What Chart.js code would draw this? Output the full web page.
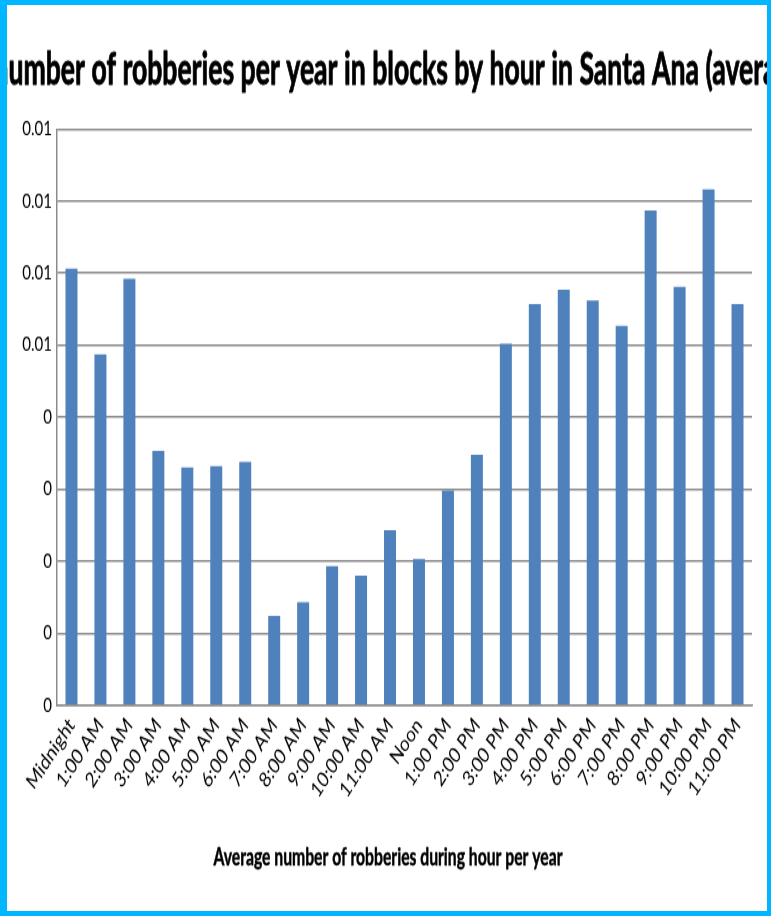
<!DOCTYPE html>
<html>
<head>
<meta charset="utf-8">
<title>Robberies by hour in Santa Ana</title>
<script src="https://cdn.jsdelivr.net/npm/chart.js@4.4.1/dist/chart.umd.min.js"></script>
<style>
  html, body { margin: 0; padding: 0; background: #ffffff; }
  #wrap { position: relative; width: 771px; height: 916px; overflow: hidden; }
  #chart { position: absolute; left: 0; top: 0; }
  #frame {
    position: absolute; left: 0; top: 0; width: 771px; height: 916px;
    box-sizing: border-box; border-style: solid; border-color: #00b6ff;
    border-width: 5px 4px 5px 7px; pointer-events: none;
  }
</style>
</head>
<body>
<div id="wrap">
  <!-- drawn at 705px tall and shown at 916px: the chart is stretched vertically -->
  <canvas id="chart" width="771" height="705" style="width:771px;height:916px"></canvas>
  <div id="frame"></div>
</div>
<script>
const hourLabels = [
  'Midnight', '1:00 AM', '2:00 AM', '3:00 AM', '4:00 AM', '5:00 AM',
  '6:00 AM', '7:00 AM', '8:00 AM', '9:00 AM', '10:00 AM', '11:00 AM',
  'Noon', '1:00 PM', '2:00 PM', '3:00 PM', '4:00 PM', '5:00 PM',
  '6:00 PM', '7:00 PM', '8:00 PM', '9:00 PM', '10:00 PM', '11:00 PM'
];

const robberiesPerYear = [
  0.00606, 0.00487, 0.00592, 0.00353, 0.00330, 0.00332,
  0.00338, 0.00124, 0.00143, 0.00193, 0.00180, 0.00243,
  0.00203, 0.00298, 0.00348, 0.00502, 0.00557, 0.00577,
  0.00562, 0.00527, 0.00687, 0.00581, 0.00716, 0.00557
];

// axis labels rounded to two decimals, bottom to top
const yTickLabels = ['0', '0', '0', '0', '0', '0.01', '0.01', '0.01', '0.01'];

const chartTitle = 'Average number of robberies per year in blocks by hour in Santa Ana (average)';
const xAxisTitle = 'Average number of robberies during hour per year';

const STRETCH = 916 / 705;          // vertical display stretch of the canvas
const FONT = 'Lato, "Liberation Sans", sans-serif';

const textPlugin = {
  id: 'chartTexts',
  afterDraw(chart) {
    const ctx = chart.ctx;

    // chart title (wider than the frame, condensed horizontally)
    ctx.save();
    ctx.fillStyle = '#000000';
    ctx.strokeStyle = '#000000';
    ctx.lineWidth = 0.8;
    ctx.lineJoin = 'round';
    ctx.textBaseline = 'alphabetic';
    ctx.textAlign = 'left';
    ctx.font = 'bold 35px ' + FONT;
    const lead = ctx.measureText('Average n').width;
    const upTo = ctx.measureText('Average number of robberies per year in blocks by hour in Santa ').width;
    const kx = (652 - 8.5) / (upTo - lead);
    ctx.translate(8.5 - lead * kx, 84 / STRETCH);
    ctx.scale(kx, 1);
    ctx.fillText(chartTitle, 0, 0);
    ctx.strokeText(chartTitle, 0, 0);
    ctx.restore();

    // horizontal axis title
    ctx.save();
    ctx.fillStyle = '#000000';
    ctx.strokeStyle = '#000000';
    ctx.lineWidth = 0.4;
    ctx.textBaseline = 'alphabetic';
    ctx.textAlign = 'center';
    ctx.font = 'bold 18px ' + FONT;
    const w = ctx.measureText(xAxisTitle).width;
    ctx.translate(388, 865 / STRETCH);
    ctx.scale(349 / w, 1);
    ctx.fillText(xAxisTitle, 0, 0);
    ctx.strokeText(xAxisTitle, 0, 0);
    ctx.restore();
  }
};

new Chart(document.getElementById('chart'), {
  type: 'bar',
  data: {
    labels: hourLabels,
    datasets: [{
      data: robberiesPerYear,
      backgroundColor: '#4f81bd',
      borderWidth: 0,
      categoryPercentage: 1,
      barPercentage: 0.414
    }]
  },
  options: {
    responsive: false,
    devicePixelRatio: 1,
    animation: false,
    layout: { padding: { top: 129 / STRETCH, right: 19, bottom: 705 - 705.3 / STRETCH - 100, left: 0 } },
    plugins: {
      legend: { display: false },
      title: { display: false },
      tooltip: { enabled: false }
    },
    scales: {
      x: {
        offset: true,
        grid: { display: false, drawTicks: false },
        border: { display: true, color: '#8c8c8c', width: 1.5 },
        ticks: {
          color: '#000000',
          font: { family: FONT, size: 16.5 },
          minRotation: 50,
          maxRotation: 50,
          autoSkip: false,
          padding: 6
        },
        afterFit(scale) { scale.height = 100; }
      },
      y: {
        min: 0,
        max: 0.008,
        ticks: {
          stepSize: 0.001,
          color: '#000000',
          font: { family: FONT, size: 15 },
          padding: 5,
          callback: (value, index) => yTickLabels[index]
        },
        grid: { color: '#8c8c8c', lineWidth: 1.5, drawTicks: false },
        border: { display: true, color: '#8c8c8c', width: 1.5 },
        afterFit(scale) { scale.width = 57; }
      }
    }
  },
  plugins: [textPlugin]
});
</script>
</body>
</html>
